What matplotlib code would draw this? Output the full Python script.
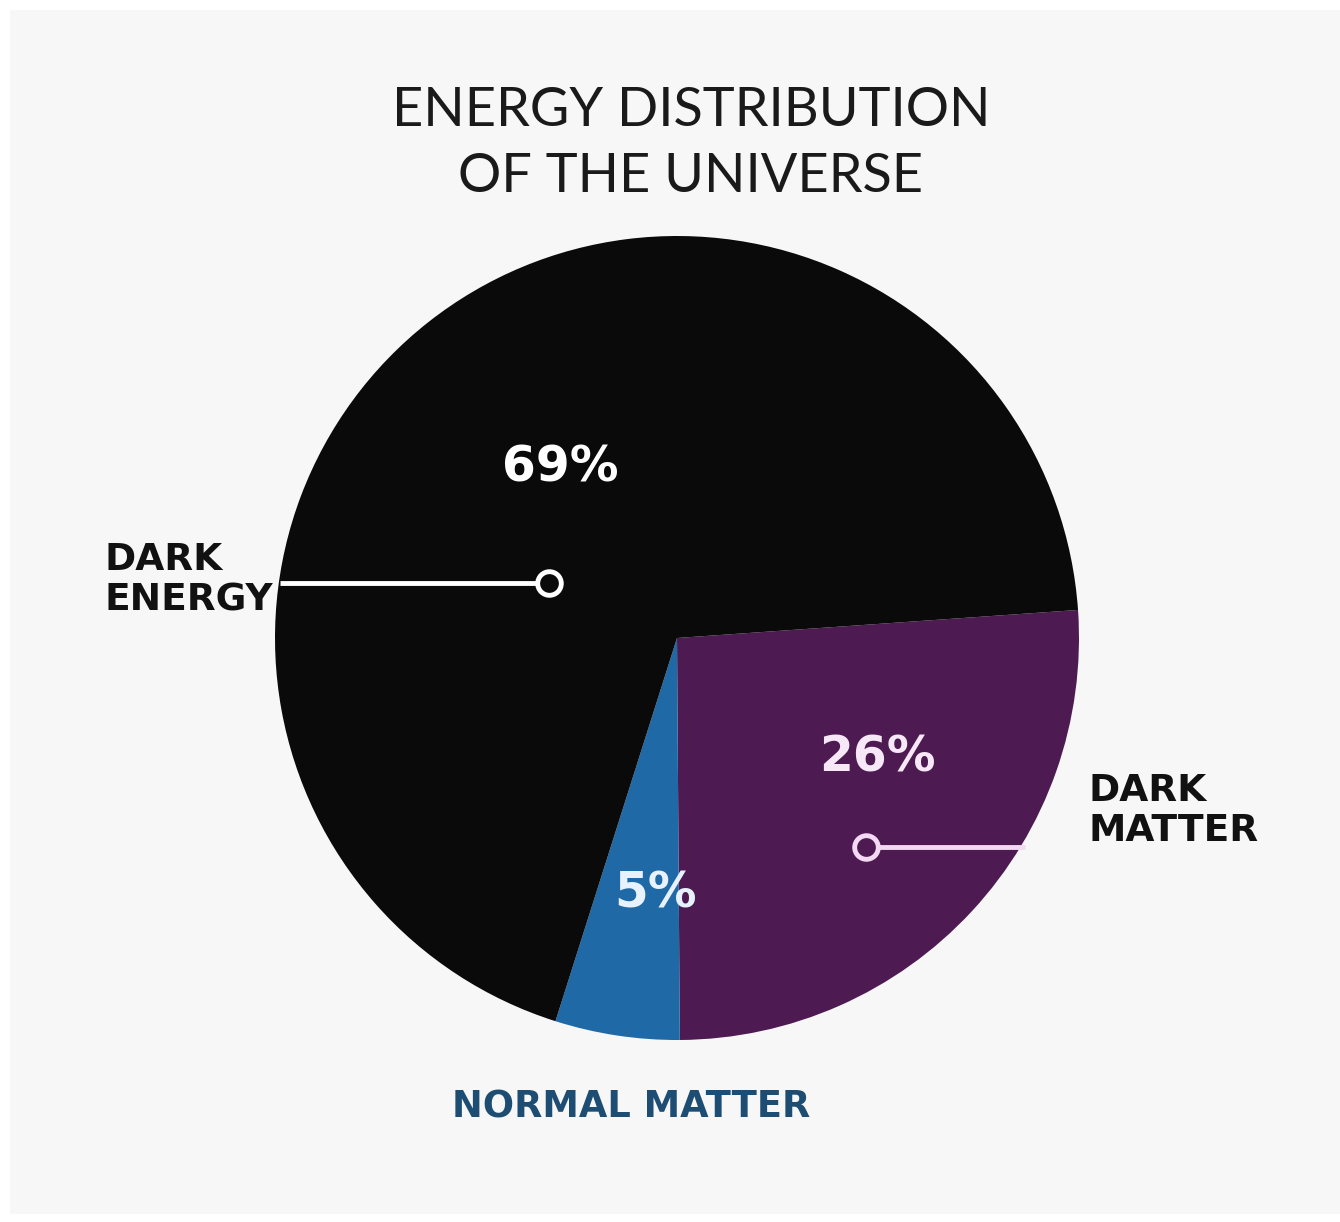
import matplotlib
matplotlib.use("Agg")
import matplotlib.pyplot as plt
from matplotlib.patches import Rectangle

# ---- data ----
categories = ["DARK MATTER", "NORMAL MATTER", "DARK ENERGY"]
shares = [26, 5, 69]
pct_labels = ["26%", "5%", "69%"]
colors = ["#4d1a52", "#1e69a6", "#0a0a0a"]
title_lines = ["ENERGY DISTRIBUTION", "OF THE UNIVERSE"]

W, H = 1340, 1222
fig = plt.figure(figsize=(W / 100, H / 100), dpi=100)
fig.patch.set_facecolor("white")

bg = fig.add_axes([0, 0, 1, 1], zorder=-10)
bg.set_xlim(0, W)
bg.set_ylim(H, 0)
bg.axis("off")
bg.add_patch(Rectangle((10, 10), W - 10, H - 18, facecolor="#f7f7f7",
                       edgecolor="none"))

# pie axes: centre (677, 638) px, radius 402 px
cx, cy, r = 677, 638, 402
ax = fig.add_axes([(cx - r) / W, (H - cy - r) / H, 2 * r / W, 2 * r / H],
                  zorder=1)
ax.pie(shares, colors=colors, startangle=4, counterclock=False,
       wedgeprops=dict(linewidth=0))
ax.set_xlim(-1, 1)
ax.set_ylim(-1, 1)
ax.set_aspect("equal")
ax.axis("off")

# overlay in pixel coordinates
ov = fig.add_axes([0, 0, 1, 1], zorder=5)
ov.set_xlim(0, W)
ov.set_ylim(H, 0)
ov.axis("off")
ov.patch.set_alpha(0)

tfont = "Lato"
bfont = "DejaVu Sans"
# title
ov.text(691, 110, title_lines[0], ha="center", va="center", fontsize=39,
        family=tfont, fontweight="normal", color="#1a1a1a")
ov.text(691, 177, title_lines[1], ha="center", va="center", fontsize=39,
        family=tfont, fontweight="normal", color="#1a1a1a")

# percentages
ov.text(560, 468, pct_labels[2], ha="center", va="center", fontsize=35,
        family=bfont, fontweight="bold", color="white")
ov.text(877, 757, pct_labels[0], ha="center", va="center", fontsize=35,
        family=bfont, fontweight="bold", color="#f6e8f6")
ov.text(655, 893, pct_labels[1], ha="center", va="center", fontsize=35,
        family=bfont, fontweight="bold", color="#e8f2ff")

# leader: dark energy
ov.plot([280, 540], [583, 583], color="white", lw=3.5, solid_capstyle="butt")
ov.plot([549], [583], marker="o", ms=17, mfc="#0a0a0a", mec="white", mew=3.5)
ov.text(105, 580, "DARK\nENERGY", ha="left", va="center", fontsize=27,
        family=bfont, fontweight="bold", color="#111111", linespacing=1.17)

# leader: dark matter
ov.plot([875, 1025], [847, 847], color="#f3d9f3", lw=3.5, solid_capstyle="butt")
ov.plot([866], [847], marker="o", ms=17, mfc="#4d1a52", mec="#f3d9f3", mew=3.5)
ov.text(1088, 811, "DARK\nMATTER", ha="left", va="center", fontsize=27,
        family=bfont, fontweight="bold", color="#111111", linespacing=1.17)

# normal matter label
ov.text(631, 1107, "NORMAL MATTER", ha="center", va="center", fontsize=26.5,
        family=bfont, fontweight="bold", color="#1d4d73")

fig.savefig("out.png", dpi=100, facecolor=fig.get_facecolor())
